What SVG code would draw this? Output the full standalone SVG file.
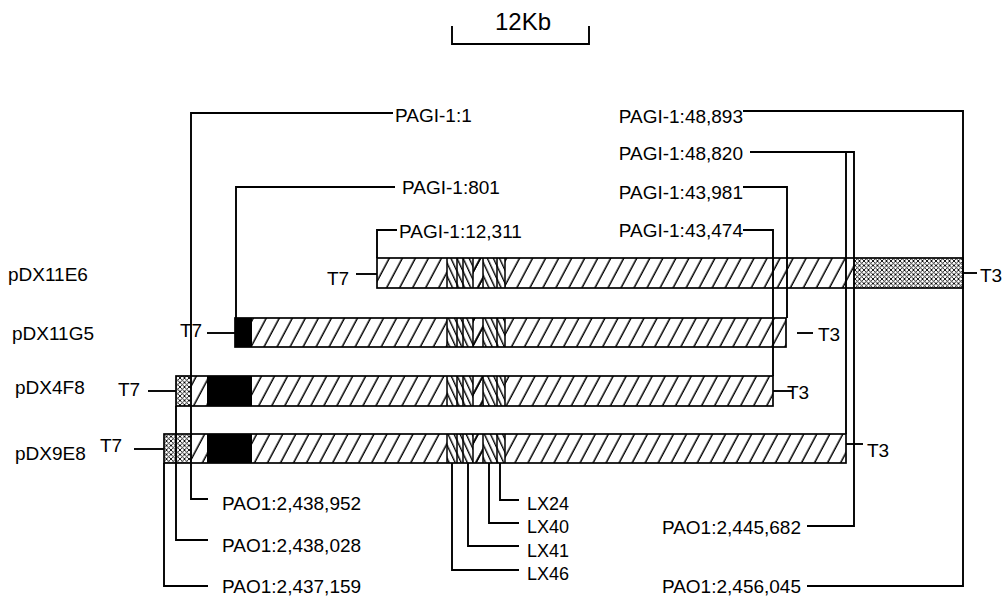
<svg xmlns="http://www.w3.org/2000/svg" width="1002" height="598" viewBox="0 0 1002 598">
<defs>
<pattern id="hatch" patternUnits="userSpaceOnUse" width="11.5" height="20" patternTransform="rotate(28)">
<line x1="5" y1="-1" x2="5" y2="21" stroke="#000" stroke-width="1.5"/>
</pattern>
<pattern id="back" patternUnits="userSpaceOnUse" width="5.5" height="20" patternTransform="rotate(-25)">
<rect x="-1" y="-1" width="7.5" height="22" fill="#fff"/>
<line x1="2.5" y1="-1" x2="2.5" y2="21" stroke="#000" stroke-width="1.4"/>
</pattern>
<pattern id="cross" patternUnits="userSpaceOnUse" width="4.5" height="4.5">
<rect width="4.5" height="4.5" fill="#fff"/>
<path d="M0,0L4.5,4.5M4.5,0L0,4.5" stroke="#000" stroke-width="0.9"/>
</pattern>
</defs>
<style>
text{font-family:"Liberation Sans",Arial,sans-serif;font-size:19px;fill:#000}
.big{font-size:24px}
.lx{font-size:18px}
.ln{stroke:#000;stroke-width:1.9;fill:none}
.box{fill:none;stroke:#000;stroke-width:1.7}
.h{fill:url(#hatch)}
.b{fill:url(#back)}
.c{fill:url(#cross)}
.blk{fill:#000}
.sep{stroke:#000;stroke-width:1.5}
</style>
<rect width="1002" height="598" fill="#fff"/>

<g id="scale">
<text class="big" x="523" y="30" text-anchor="middle">12Kb</text>
<path class="ln" d="M452,26V44H589V26" stroke-width="2.2"/>
</g>

<g id="pDX11E6">
<text x="8" y="281">pDX11E6</text>
<rect class="h" x="377" y="258" width="477" height="30"/>
<rect class="c" x="854" y="258" width="109" height="30"/>
<rect class="b" x="447" y="258" width="26" height="30"/>
<rect class="h" x="473" y="258" width="10" height="30"/>
<rect class="b" x="483" y="258" width="22" height="30"/>
<path class="sep" d="M447,258V288M457,258V288M463,258V288M473,258V288M483,258V288M497,258V288M505,258V288"/>
<rect class="box" x="377" y="258" width="586" height="30"/>
<text x="327" y="285">T7</text>
<text x="980" y="282">T3</text>
</g>

<g id="pDX11G5">
<text x="12" y="340">pDX11G5</text>
<rect class="h" x="252" y="318" width="534" height="29"/>
<rect class="blk" x="235" y="318" width="17" height="29"/>
<rect class="b" x="447" y="318" width="26" height="29"/>
<rect class="h" x="473" y="318" width="10" height="29"/>
<rect class="b" x="483" y="318" width="22" height="29"/>
<path class="sep" d="M447,318V347M457,318V347M463,318V347M473,318V347M483,318V347M497,318V347M505,318V347"/>
<rect class="box" x="235" y="318" width="551" height="29"/>
<text x="180" y="337">T7</text>
<text x="818" y="341">T3</text>
</g>

<g id="pDX4F8">
<text x="15" y="394">pDX4F8</text>
<rect class="c" x="176" y="376" width="14" height="30"/>
<rect class="h" x="190" y="376" width="583" height="30"/>
<rect class="blk" x="207" y="376" width="45" height="30"/>
<rect class="b" x="447" y="376" width="26" height="30"/>
<rect class="h" x="473" y="376" width="10" height="30"/>
<rect class="b" x="483" y="376" width="22" height="30"/>
<path class="sep" d="M447,376V406M457,376V406M463,376V406M473,376V406M483,376V406M497,376V406M505,376V406"/>
<rect class="box" x="176" y="376" width="597" height="30"/>
<text x="118" y="396">T7</text>
<text x="787" y="399">T3</text>
</g>

<g id="pDX9E8">
<text x="15" y="460">pDX9E8</text>
<rect class="c" x="164" y="434" width="26" height="29"/>
<rect class="h" x="190" y="434" width="656" height="29"/>
<rect class="blk" x="207" y="434" width="45" height="29"/>
<rect class="b" x="447" y="434" width="26" height="29"/>
<rect class="h" x="473" y="434" width="10" height="29"/>
<rect class="b" x="483" y="434" width="22" height="29"/>
<path class="sep" d="M447,434V463M457,434V463M463,434V463M473,434V463M483,434V463M497,434V463M505,434V463"/>
<rect class="box" x="164" y="434" width="682" height="29"/>
<text x="100" y="452">T7</text>
<text x="867" y="457">T3</text>
</g>

<g id="connectors">
<path class="ln" d="M393,113H191V499H208"/>
<path class="ln" d="M395,187H236V318"/>
<path class="ln" d="M397,230H377V258"/>
<path class="ln" d="M176,406V540H208"/>
<path class="ln" d="M164,463V586H208"/>
<path class="ln" d="M743,111H963V586H807"/>
<path class="ln" d="M750,152H854V526H807"/>
<path class="ln" d="M846,152V434"/>
<path class="ln" d="M743,187H787V318"/>
<path class="ln" d="M743,230H773V376"/>
<path class="ln" d="M500,463V500H519"/>
<path class="ln" d="M489,463V523H519"/>
<path class="ln" d="M468,463V546H519"/>
<path class="ln" d="M452,463V570H519"/>
<path class="ln" d="M356,274H377"/>
<path class="ln" d="M207,333H235"/>
<path class="ln" d="M148,391H176"/>
<path class="ln" d="M134,449H164"/>
<path class="ln" d="M963,273H977"/>
<path class="ln" d="M797,333H813"/>
<path class="ln" d="M773,391H793"/>
<path class="ln" d="M846,444H863"/>
</g>

<g id="labels">
<text x="395" y="122">PAGI-1:1</text>
<text x="402" y="194">PAGI-1:801</text>
<text x="399" y="238">PAGI-1:12,311</text>
<text x="743" y="123" text-anchor="end">PAGI-1:48,893</text>
<text x="743" y="160" text-anchor="end">PAGI-1:48,820</text>
<text x="743" y="199" text-anchor="end">PAGI-1:43,981</text>
<text x="743" y="237" text-anchor="end">PAGI-1:43,474</text>
<text x="222" y="510">PAO1:2,438,952</text>
<text x="222" y="552">PAO1:2,438,028</text>
<text x="222" y="593">PAO1:2,437,159</text>
<text x="801" y="534" text-anchor="end">PAO1:2,445,682</text>
<text x="801" y="593" text-anchor="end">PAO1:2,456,045</text>
<text class="lx" x="527" y="510">LX24</text>
<text class="lx" x="527" y="533">LX40</text>
<text class="lx" x="527" y="557">LX41</text>
<text class="lx" x="527" y="580">LX46</text>
</g>
</svg>
